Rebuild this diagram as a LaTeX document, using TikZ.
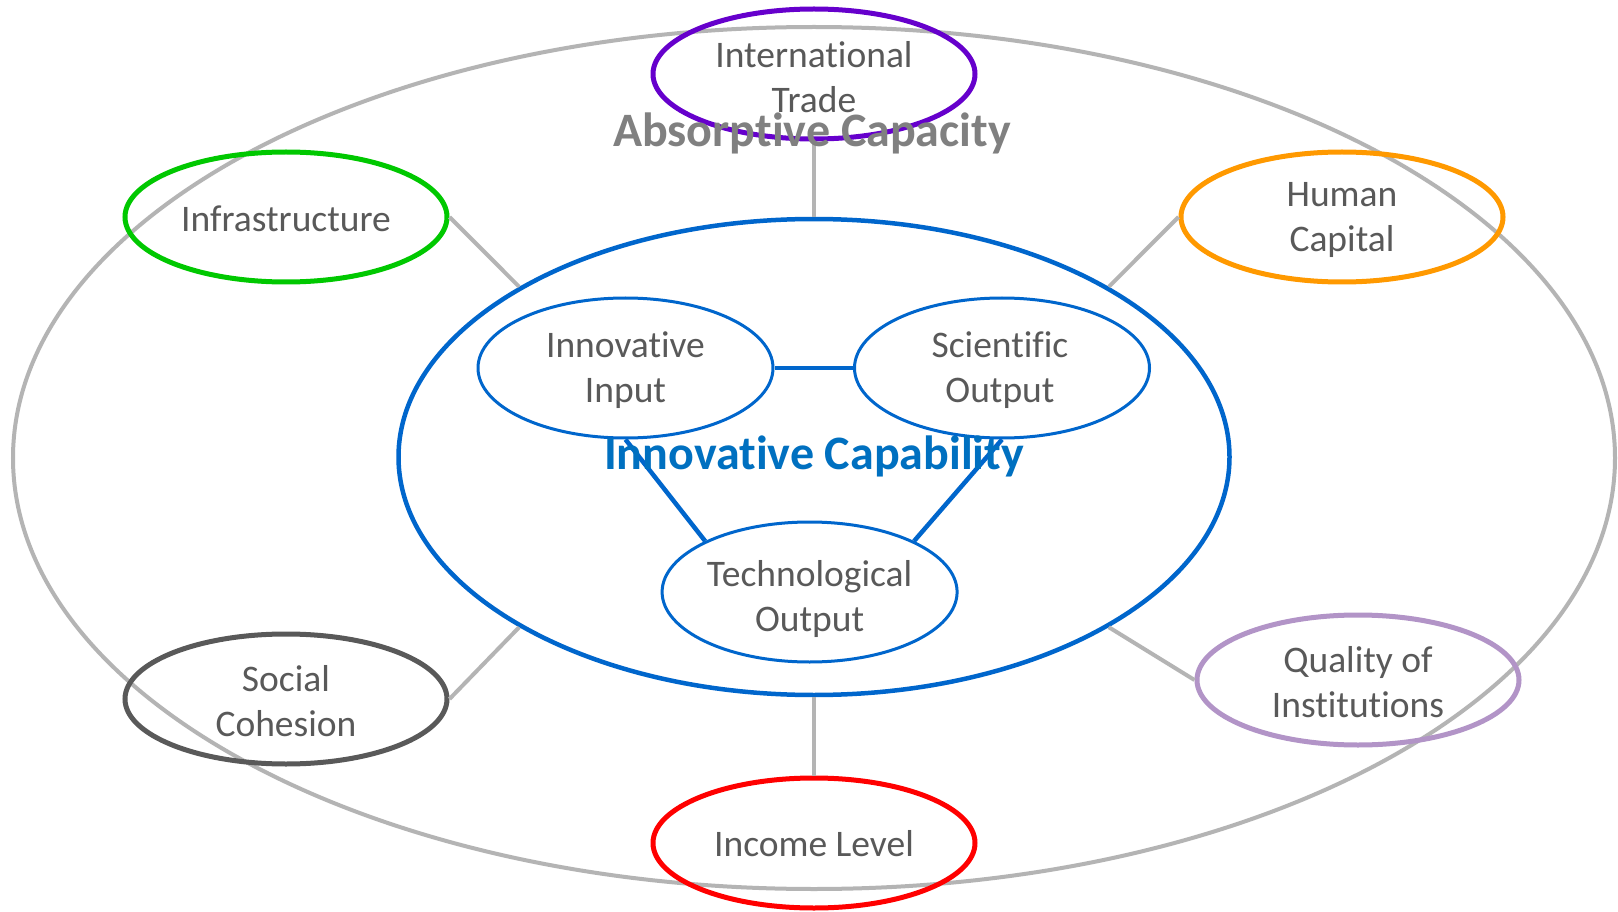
\documentclass[tikz,border=0pt]{standalone}
\usepackage{fontspec}
\setmainfont{Carlito}[Ligatures=NoCommon]
\usetikzlibrary{shapes.geometric}

\definecolor{ringgray}{HTML}{B4B4B4}
\definecolor{capblue}{HTML}{0066CC}
\definecolor{titleblue}{HTML}{0070C0}
\definecolor{titlegray}{HTML}{808080}
\definecolor{labelgray}{HTML}{595959}
\definecolor{tradepurple}{HTML}{6600CC}
\definecolor{infragreen}{HTML}{00C800}
\definecolor{humanorange}{HTML}{FF9900}
\definecolor{socialgray}{HTML}{595959}
\definecolor{instlilac}{HTML}{B294C7}
\definecolor{incomered}{HTML}{FF0000}

\tikzset{
  factor/.style={ellipse, draw, line width=5pt, minimum width=322pt, minimum height=130pt, inner sep=0pt},
  part/.style={ellipse, draw=capblue, line width=3pt, minimum width=295pt, minimum height=140pt, inner sep=0pt},
  lbl/.style={text=labelgray, align=center, font=\fontsize{37.5}{45}\selectfont},
  title/.style={font=\fontsize{48}{56}\selectfont\bfseries},
  graylink/.style={draw=ringgray, line width=4pt},
  bluelink/.style={draw=capblue, line width=4.5pt},
}

\begin{document}
\begin{tikzpicture}[x=1pt,y=-1pt]
  \path[fill=white] (0,0) rectangle (1618,912);
  \useasboundingbox (0,0) rectangle (1618,912);

  % outer ring: absorptive capacity
  \node[ellipse, draw=ringgray, line width=4pt, minimum width=1602pt, minimum height=862pt, inner sep=0pt] (outer) at (814,458) {};

  % inner ring: innovative capability
  \node[ellipse, draw=capblue, line width=4.5pt, minimum width=831pt, minimum height=476pt, inner sep=0pt] (cap) at (814,457) {};

  % absorptive factors
  \node[factor, draw=tradepurple] (trade) at (814,74) {};
  \node[factor, draw=infragreen] (infra) at (286,217) {};
  \node[factor, draw=humanorange] (human) at (1342,217) {};
  \node[factor, draw=socialgray] (social) at (286,699) {};
  \node[factor, draw=instlilac] (inst) at (1358,680) {};
  \node[factor, draw=incomered] (income) at (814,843) {};

  % components of innovative capability
  \node[part] (input) at (625.5,368) {};
  \node[part] (sci) at (1002,368) {};
  \node[part] (tech) at (809.6,592) {};

  % links from the factors to the capability ring
  \draw[graylink] (trade.south) -- (cap.north);
  \draw[graylink] (income.north) -- (cap.south);
  \draw[graylink] (infra.east) -- (cap.150);
  \draw[graylink] (human.west) -- (cap.30);
  \draw[graylink] (social.east) -- (cap.210);
  \draw[graylink] (inst.west) -- (cap.330);

  % links between the components
  \draw[bluelink] (input.east) -- (sci.west);
  \draw[bluelink] (input.south) -- (tech.154);
  \draw[bluelink] (sci.south) -- (tech.26);

  % labels
  \node[lbl] (tradeT) at (814,77) {International\\Trade};
  \node[lbl] (infraT) at (286,219) {Infrastructure};
  \node[lbl] (humanT) at (1342,220) {Human\\Capital};
  \node[lbl] (socialT) at (286,701) {Social\\Cohesion};
  \node[lbl] (instT) at (1358,682) {Quality of\\Institutions};
  \node[lbl] (incomeT) at (814,844) {Income Level};
  \node[lbl] (inputT) at (625.5,370) {Innovative\\Input};
  \node[lbl] (sciT) at (1000,370) {Scientific\\Output};
  \node[lbl] (techT) at (809.6,599) {Technological\\Output};

  \node[title, text=titleblue] (capT) at (814,456) {Innovative Capability};
  \node[title, text=titlegray] (outerT) at (812,133) {Absorptive Capacity};
\end{tikzpicture}
\end{document}
